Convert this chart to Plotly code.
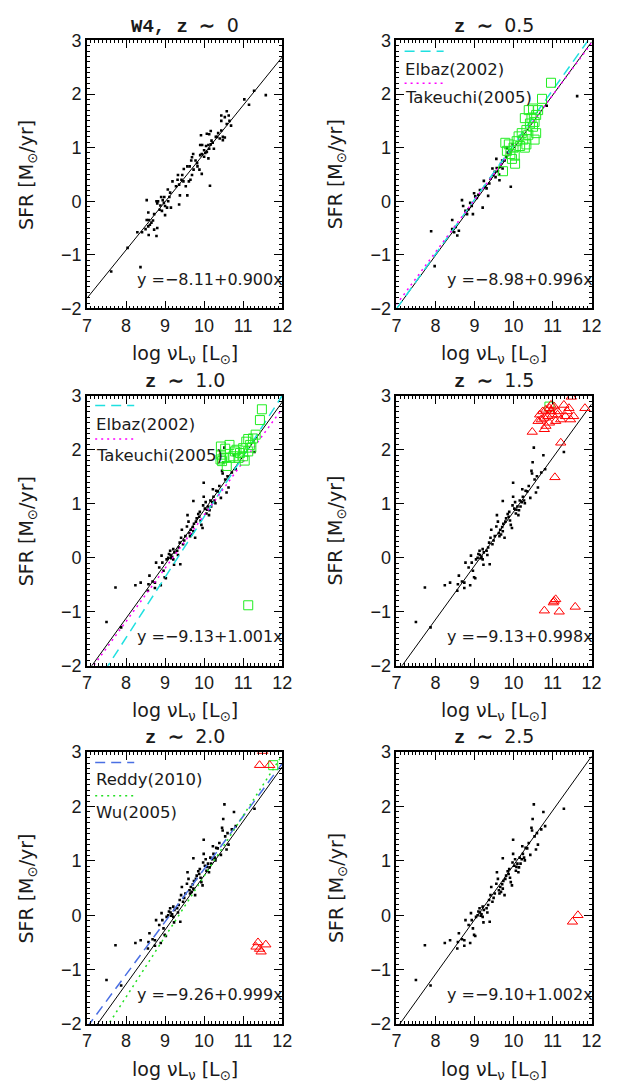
import plotly.graph_objects as go

W, H = 626, 1090

# ---------------- data ----------------
# z~0 (W4) sample
p1_x = [7.62, 8.04, 8.29, 8.37, 8.41, 8.53, 8.57, 8.58, 8.53, 8.50, 8.57, 8.61, 8.65, 8.69, 8.72, 8.58, 8.72, 8.80,
        8.78, 8.78, 8.82, 8.80, 8.88, 8.86, 8.92, 8.97, 8.94, 8.90, 8.98, 9.00, 9.05, 9.08, 9.11, 9.13, 9.07, 9.15,
        9.00, 9.19, 9.28, 9.32, 9.36, 9.33, 9.42, 9.44, 9.48, 9.47, 9.53, 9.57, 9.36, 9.38, 9.57, 9.63, 9.61, 9.65,
        9.69, 9.73, 9.69, 9.67, 9.72, 9.78, 9.82, 9.83, 9.88, 9.94, 9.90, 9.94, 9.90, 9.95, 9.92, 10.00, 10.03, 10.00,
        10.07, 10.05, 10.11, 10.13, 10.11, 10.07, 10.13, 10.17, 10.19, 10.17, 10.22, 10.25, 10.15, 10.30, 10.36, 10.33,
        10.40, 10.44, 10.48, 10.53, 10.48, 10.44, 10.44, 10.53, 10.58, 10.63, 10.65, 10.58, 10.69, 11.03, 11.15, 11.28,
        11.58]
p1_y = [-1.31, -0.87, -0.58, -1.23, -0.58, 0.02, -0.21, -0.35, -0.35, -0.52, -0.47, -0.44, -0.40, -0.36, -0.24, -0.63,
        -0.53, -0.50, -0.65, 0.00, 0.00, -0.04, -0.08, -0.16, -0.18, -0.03, 0.02, 0.08, 0.08, -0.09, -0.12, 0.00, 0.08,
        0.16, 0.22, -0.12, -0.26, 0.37, 0.28, 0.40, 0.31, 0.49, 0.40, 0.49, 0.60, 0.37, 0.28, 0.11, -0.06, 0.11, 0.65,
        0.65, 0.37, 0.40, 0.49, 0.59, 0.82, 0.76, 0.88, 0.76, 0.71, 0.65, 0.59, 0.51, 0.86, 0.88, 1.05, 1.05, 1.23,
        0.95, 0.90, 0.83, 0.92, 1.03, 1.05, 0.98, 0.80, 1.26, 1.25, 1.31, 1.13, 1.06, 1.09, 0.98, 0.29, 1.20, 1.27,
        1.20, 1.17, 1.32, 1.20, 1.19, 1.14, 1.60, 1.50, 1.57, 1.68, 1.60, 1.50, 1.44, 1.41, 1.90, 1.80, 2.06, 1.98]

# z~0.5 sample
p2_x = [7.89, 7.98, 8.43, 8.48, 8.52, 8.56, 8.43, 8.60, 8.68, 8.71, 8.77, 8.81, 8.85, 8.89, 8.93, 8.96, 8.99, 9.02,
        9.06, 9.10, 9.14, 9.21, 9.24, 9.27, 9.31, 9.35, 9.38, 9.41, 9.46, 9.48, 9.52, 9.54, 9.56, 9.57, 9.60, 9.63,
        9.64, 9.66, 9.68, 9.71, 9.72, 9.77, 9.81, 9.85, 9.93, 9.89, 9.83, 9.98, 10.85, 11.63]
p2_y = [-0.56, -1.21, -0.52, -0.58, -0.48, -0.64, -0.35, -0.55, 0.02, -0.09, -0.18, -0.24, -0.15, -0.03, -0.09, -0.24,
        0.15, 0.09, 0.06, 0.12, 0.21, -0.12, 0.38, 0.27, 0.24, 0.10, 0.33, 0.42, 0.61, 0.49, 0.55, 0.45, 0.79, 0.62,
        0.56, 0.50, 0.39, 0.64, 0.70, 0.76, 0.61, 0.76, 0.83, 0.91, 0.27, 0.94, 1.00, 1.06, 1.78, 1.96]

# sample shown in the z >= 1 panels
hz_x = [7.50, 7.73, 7.875, 8.24, 8.375, 8.60, 8.575, 8.56, 8.68, 8.74, 8.74, 8.89, 8.77, 8.85, 8.91, 8.93, 8.96, 8.99,
        9.02, 9.04, 9.08, 9.10, 9.13, 9.14, 9.16, 9.18, 9.21, 9.23, 9.21, 9.24, 9.31, 9.33, 9.35, 9.39, 9.375, 9.41,
        9.43, 9.46, 9.49, 9.52, 9.56, 9.575, 9.60, 9.625, 9.64, 9.66, 9.68, 9.71, 9.725, 9.74, 9.77, 9.79, 9.725,
        9.81, 9.85, 9.875, 9.89, 9.91, 9.93, 9.96, 9.975, 9.99, 9.99, 10.02, 10.04, 10.06, 10.075, 10.10, 10.125,
        10.14, 10.16, 10.18, 10.21, 10.225, 10.24, 10.27, 10.29, 10.31, 10.35, 10.39, 10.43, 10.46, 10.475, 10.49,
        10.52, 10.54, 10.575, 10.60, 10.625, 10.71, 10.765, 10.81, 11.29]
hz_y = [-1.19, -0.55, -1.29, -0.51, -0.46, -0.33, -0.49, -0.61, -0.44, -0.46, -0.56, -0.51, -0.09, -0.18, 0.04, -0.09,
        -0.24, -0.36, -0.38, -0.03, 0.00, 0.07, 0.13, 0.05, -0.01, 0.02, -0.03, -0.13, 0.16, 0.10, 0.13, 0.05, 0.19,
        -0.12, 0.28, 0.37, 0.52, 0.25, 0.32, 0.40, 0.58, 0.79, 0.67, 0.46, 0.40, 0.52, 0.43, 0.57, 0.49, 0.63, 0.37,
        0.67, 1.05, 0.73, 0.81, 0.76, 0.85, 0.69, 0.61, 0.55, 0.97, 1.13, 1.39, 0.91, 1.03, 0.82, 0.89, 0.95, 0.79,
        0.88, 1.06, 0.95, 1.03, 1.27, 1.13, 1.06, 1.01, 1.24, 1.23, 1.33, 1.11, 1.61, 1.56, 1.77, 2.04, 1.45, 1.21,
        1.51, 1.30, 1.58, 1.90, 1.64, 1.96]

# green squares
sq2_x = [9.73, 9.79, 9.83, 9.92, 9.96, 10.00, 10.03, 10.08, 10.13, 10.17, 10.21, 10.25, 10.29, 10.33, 10.38, 10.39,
         10.42, 10.46, 10.50, 10.54, 10.58, 10.58, 10.63, 10.54, 10.33, 10.96, 10.73, 9.88, 10.04, 10.29, 10.50]
sq2_y = [0.56, 1.09, 0.94, 0.88, 0.79, 1.00, 0.85, 1.12, 1.21, 1.03, 1.27, 1.15, 1.00, 1.33, 1.24, 1.70,
         1.45, 1.55, 1.39, 1.48, 1.61, 1.27, 1.70, 1.15, 1.06, 2.21, 1.91, 1.06, 0.70, 1.55, 1.73]
sq3_x = [11.48, 11.43, 11.32, 11.25, 11.13, 11.08, 11.18, 11.21, 11.00, 10.92, 10.88, 10.79, 10.65, 10.54, 10.43,
         10.43, 10.46, 10.50, 10.58, 10.67, 10.75, 10.83, 11.04, 11.13, 11.00, 11.13, 10.42]
sq3_y = [2.75, 2.55, 2.28, 2.21, 2.20, 2.15, 2.09, 2.04, 2.03, 1.94, 1.85, 1.97, 2.09, 2.02, 2.06,
         1.91, 1.79, 1.85, 1.70, 1.85, 1.88, 2.00, 1.80, 1.97, 1.88, -0.88, 1.82]
sq4_x = [10.92]
sq4_y = [2.80]
sq5_x = [11.77]
sq5_y = [2.76]

# red triangles
tr4_x = [10.48, 10.79, 11.06, 11.21, 11.48, 11.83, 11.42, 11.29, 11.33, 11.21, 11.13, 11.04, 10.96, 10.88, 10.79,
         10.71, 10.63, 10.67, 10.75, 10.83, 10.92, 11.00, 11.08, 10.92, 10.83, 11.46, 11.38, 11.54, 10.96, 11.13,
         10.79, 11.04, 11.08, 11.02, 11.17, 11.58]
tr4_y = [2.33, 2.38, 1.49, 2.13, 2.98, 2.77, 2.77, 2.83, 2.62, 2.56, 2.65, 2.80, 2.71, 2.62, 2.59,
         2.56, 2.53, 2.65, 2.71, 2.74, 2.77, 2.65, 2.53, 2.50, 2.44, 2.56, 2.71, 2.62, 2.83, 2.71,
         -0.98, -0.80, -0.77, -0.83, -1.00, -0.91]
tr5_x = [11.50, 11.42, 11.68, 11.33, 11.38, 11.42, 11.46, 11.58]
tr5_y = [3.02, 2.76, 2.76, -0.58, -0.50, -0.62, -0.67, -0.54]
tr6_x = [11.51, 11.65]
tr6_y = [-0.12, 0.00]

# fitted relations (intercept, slope)
fit_a = [-8.11, -8.98, -9.13, -9.13, -9.26, -9.10]
fit_b = [0.900, 0.996, 1.001, 0.998, 0.999, 1.002]
eq_labels = ["y =\u22128.11+0.900x", "y =\u22128.98+0.996x", "y =\u22129.13+1.001x",
             "y =\u22129.13+0.998x", "y =\u22129.26+0.999x", "y =\u22129.10+1.002x"]
titles_lead = ["W4, z \u223c ", "z \u223c ", "z \u223c ", "z \u223c ", "z \u223c ", "z \u223c "]
titles_num = ["0", "0.5", "1.0", "1.5", "2.0", "2.5"]

# literature relations (intercept, slope)
elbaz_05 = (-9.15, 1.02)
takeuchi_05 = (-8.76, 0.976)
elbaz_10 = (-10.45, 1.121)
takeuchi_10 = (-9.06, 0.985)
reddy_20 = (-8.85, 0.97)
wu_20 = (-10.40, 1.112)

x_ends = [7.0, 12.0]
x_range = [7, 12]
y_range = [-2, 3]

# ---------------- layout helpers ----------------
col_px = [(84, 284), (401, 601)]
row_px = [(31, 304), (393, 668), (756, 1033)]


def fx(px):
    return px / W


def fy(py):
    return 1 - py / H


fig = go.Figure()
layout = dict(width=W, height=H, margin=dict(l=0, r=0, t=0, b=0),
              paper_bgcolor="white", plot_bgcolor="white", showlegend=False,
              font=dict(family="Liberation Sans", color="#111111"))

TEXTC = "#1a1a1a"
TICKFONT = dict(family="Liberation Sans", size=18, color=TEXTC)
annotations = []
shapes = []

for i in range(6):
    r, c = divmod(i, 2)
    n = "" if i == 0 else str(i + 1)
    xa, ya = "x" + n, "y" + n
    x0, x1 = col_px[c]
    y0, y1 = row_px[r]
    common = dict(showgrid=False, zeroline=False, showline=True, linecolor="black", linewidth=1.5,
                  mirror="allticks", ticks="inside", ticklen=8, tickwidth=1, tickcolor="black",
                  tickfont=TICKFONT, tickmode="linear", dtick=1)
    layout["xaxis" + n] = dict(common, domain=[fx(x0), fx(x1)], range=x_range, tick0=7,
                               anchor=ya, fixedrange=True,
                               minor=dict(ticks="inside", ticklen=3, tickwidth=1, tickcolor="black",
                                          tickmode="linear", tick0=7, dtick=0.1, showgrid=False))
    layout["yaxis" + n] = dict(common, domain=[fy(y1), fy(y0)], range=y_range, tick0=-2,
                               anchor=xa, fixedrange=True,
                               minor=dict(ticks="inside", ticklen=3, tickwidth=1, tickcolor="black",
                                          tickmode="linear", tick0=-2, dtick=0.1, showgrid=False))

    # fitted line
    fig.add_trace(go.Scatter(x=x_ends, y=[fit_a[i] + fit_b[i] * v for v in x_ends], mode="lines",
                             line=dict(color="black", width=1), xaxis=xa, yaxis=ya))

    # dots
    if i == 0:
        dx, dy = p1_x, p1_y
    elif i == 1:
        dx, dy = p2_x, p2_y
    else:
        dx, dy = hz_x, hz_y
    fig.add_trace(go.Scatter(x=dx, y=dy, mode="markers",
                             marker=dict(symbol="square", size=2.6, color="black", line=dict(width=0)),
                             xaxis=xa, yaxis=ya))

    # equation
    annotations.append(dict(text=eq_labels[i], xref=xa + " domain", yref=ya, x=1.015, y=-1.46,
                            xanchor="right", yanchor="middle", showarrow=False,
                            font=dict(family="DejaVu Sans", size=16, color=TEXTC)))
    # title
    annotations.append(dict(
        text='<span style="font-family:Liberation Mono;font-weight:bold">' + titles_lead[i] + '</span>' + titles_num[i],
        xref="paper", yref="paper", x=fx((x0 + x1) / 2), y=fy(y0 - 15), xanchor="center", yanchor="middle",
        showarrow=False, font=dict(family="DejaVu Sans", size=19, color=TEXTC)))
    # axis titles
    annotations.append(dict(text="log \u03bdL<sub>\u03bd</sub> [L<sub>\u2299</sub>]", xref="paper", yref="paper",
                            x=fx((x0 + x1) / 2), y=fy(y1 + 47), xanchor="center", yanchor="middle",
                            showarrow=False, font=dict(family="DejaVu Sans", size=19, color=TEXTC)))
    annotations.append(dict(text="SFR [M<sub>\u2299</sub>/yr]", xref="paper", yref="paper",
                            x=fx(x0 - 61), y=fy((y0 + y1) / 2), xanchor="center", yanchor="middle",
                            textangle=-90, showarrow=False,
                            font=dict(family="DejaVu Sans", size=19, color=TEXTC)))


def add_rel(rel, color, dash, panel):
    n = "" if panel == 0 else str(panel + 1)
    fig.add_trace(go.Scatter(x=x_ends, y=[rel[0] + rel[1] * v for v in x_ends], mode="lines",
                             line=dict(color=color, width=1.5, dash=dash), xaxis="x" + n, yaxis="y" + n))


def add_key(panel, color, dash, yline, label, ytext):
    n = str(panel + 1)
    shapes.append(dict(type="line", xref="x" + n + " domain", yref="y" + n, x0=0.042, x1=0.242,
                       y0=yline, y1=yline, line=dict(color=color, width=1.5, dash=dash)))
    annotations.append(dict(text=label, xref="x" + n + " domain", yref="y" + n, x=0.035, y=ytext,
                            xanchor="left", yanchor="middle", showarrow=False,
                            font=dict(family="DejaVu Sans", size=16.5, color=TEXTC)))


CYAN, MAG, BLUE, GRN = "#1fe0e0", "#ff00ff", "#4a6fe3", "#22e022"
DASH, DOT = "10px,6px", "2px,4px"

add_rel(elbaz_05, CYAN, DASH, 1)
add_rel(takeuchi_05, MAG, DOT, 1)
add_rel(elbaz_10, CYAN, DASH, 2)
add_rel(takeuchi_10, MAG, DOT, 2)
add_rel(reddy_20, BLUE, DASH, 4)
add_rel(wu_20, GRN, DOT, 4)

add_key(1, CYAN, DASH, 2.80, "Elbaz(2002)", 2.45)
add_key(1, MAG, DOT, 2.20, "Takeuchi(2005)", 1.93)
add_key(2, CYAN, DASH, 2.82, "Elbaz(2002)", 2.47)
add_key(2, MAG, DOT, 2.20, "Takeuchi(2005)", 1.89)
add_key(4, BLUE, DASH, 2.81, "Reddy(2010)", 2.49)
add_key(4, GRN, DOT, 2.20, "Wu(2005)", 1.89)


def add_sym(xs, ys, panel, symbol, color, size):
    n = "" if panel == 0 else str(panel + 1)
    fig.add_trace(go.Scatter(x=xs, y=ys, mode="markers",
                             marker=dict(symbol=symbol, size=size, color=color, line=dict(color=color, width=1)),
                             xaxis="x" + n, yaxis="y" + n))


SQ_GREEN = "#22ee22"
add_sym(sq2_x, sq2_y, 1, "square-open", SQ_GREEN, 9)
add_sym(sq3_x, sq3_y, 2, "square-open", SQ_GREEN, 9)
add_sym(sq4_x, sq4_y, 3, "square-open", SQ_GREEN, 9)
add_sym(sq5_x, sq5_y, 4, "square-open", SQ_GREEN, 9)
add_sym(tr4_x, tr4_y, 3, "triangle-up-open", "red", 9)
add_sym(tr5_x, tr5_y, 4, "triangle-up-open", "red", 9)
add_sym(tr6_x, tr6_y, 5, "triangle-up-open", "red", 9)

layout["annotations"] = annotations
layout["shapes"] = shapes
fig.update_layout(**layout)
fig.write_html("out.html", config={"displayModeBar": False},
               post_script="document.body.style.margin='0px';document.body.style.overflow='hidden';")
